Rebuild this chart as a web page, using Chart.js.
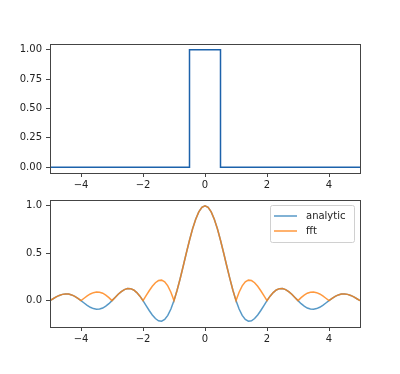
<!DOCTYPE html>
<html>
<head>
<meta charset="utf-8">
<script src="https://cdn.jsdelivr.net/npm/chart.js@4"></script>
<style>
  body { margin: 0; background: #fff; }
  #wrap { position: relative; width: 400px; height: 374px; }
  canvas { position: absolute; left: 0; }
</style>
</head>
<body>
<div id="wrap">
  <canvas id="top" width="400" height="190" style="top:0"></canvas>
  <canvas id="bottom" width="400" height="184" style="top:190px"></canvas>
</div>
<script>
// rectangle pulse (time domain)
const rectX = [-5, -0.5, -0.5, 0.5, 0.5, 5];
const rectY = [0, 0, 1, 1, 0, 0];

// sampled frequency axis
const freqX = [
  -5.0, -4.9, -4.8, -4.7, -4.6, -4.5, -4.4, -4.3, -4.2, -4.1,
  -4.0, -3.9, -3.8, -3.7, -3.6, -3.5, -3.4, -3.3, -3.2, -3.1,
  -3.0, -2.9, -2.8, -2.7, -2.6, -2.5, -2.4, -2.3, -2.2, -2.1,
  -2.0, -1.9, -1.8, -1.7, -1.6, -1.5, -1.4, -1.3, -1.2, -1.1,
  -1.0, -0.9, -0.8, -0.7, -0.6, -0.5, -0.4, -0.3, -0.2, -0.1,
  0.0, 0.1, 0.2, 0.3, 0.4, 0.5, 0.6, 0.7, 0.8, 0.9,
  1.0, 1.1, 1.2, 1.3, 1.4, 1.5, 1.6, 1.7, 1.8, 1.9,
  2.0, 2.1, 2.2, 2.3, 2.4, 2.5, 2.6, 2.7, 2.8, 2.9,
  3.0, 3.1, 3.2, 3.3, 3.4, 3.5, 3.6, 3.7, 3.8, 3.9,
  4.0, 4.1, 4.2, 4.3, 4.4, 4.5, 4.6, 4.7, 4.8, 4.9,
  5.0
];
const analytic = [
  0, 0.020, 0.039, 0.055, 0.066, 0.071, 0.069, 0.060, 0.045, 0.024,
  0, -0.025, -0.049, -0.070, -0.084, -0.091, -0.089, -0.078, -0.058, -0.032,
  0, 0.034, 0.067, 0.095, 0.116, 0.127, 0.126, 0.112, 0.085, 0.047,
  0, -0.052, -0.104, -0.151, -0.189, -0.212, -0.216, -0.198, -0.156, -0.089,
  0, 0.109, 0.234, 0.368, 0.505, 0.637, 0.757, 0.858, 0.935, 0.984,
  1, 0.984, 0.935, 0.858, 0.757, 0.637, 0.505, 0.368, 0.234, 0.109,
  0, -0.089, -0.156, -0.198, -0.216, -0.212, -0.189, -0.151, -0.104, -0.052,
  0, 0.047, 0.085, 0.112, 0.126, 0.127, 0.116, 0.095, 0.067, 0.034,
  0, -0.032, -0.058, -0.078, -0.089, -0.091, -0.084, -0.070, -0.049, -0.025,
  0, 0.024, 0.045, 0.060, 0.069, 0.071, 0.066, 0.055, 0.039, 0.020,
  0
];
const fft = [
  0, 0.020, 0.039, 0.055, 0.066, 0.071, 0.069, 0.060, 0.045, 0.024,
  0, 0.025, 0.049, 0.070, 0.084, 0.091, 0.089, 0.078, 0.058, 0.032,
  0, 0.034, 0.067, 0.095, 0.116, 0.127, 0.126, 0.112, 0.085, 0.047,
  0, 0.052, 0.104, 0.151, 0.189, 0.212, 0.216, 0.198, 0.156, 0.089,
  0, 0.109, 0.234, 0.368, 0.505, 0.637, 0.757, 0.858, 0.935, 0.984,
  1, 0.984, 0.935, 0.858, 0.757, 0.637, 0.505, 0.368, 0.234, 0.109,
  0, 0.089, 0.156, 0.198, 0.216, 0.212, 0.189, 0.151, 0.104, 0.052,
  0, 0.047, 0.085, 0.112, 0.126, 0.127, 0.116, 0.095, 0.067, 0.034,
  0, 0.032, 0.058, 0.078, 0.089, 0.091, 0.084, 0.070, 0.049, 0.025,
  0, 0.024, 0.045, 0.060, 0.069, 0.071, 0.066, 0.055, 0.039, 0.020,
  0
];

const xTicks = [-4, -2, 0, 2, 4];
const topYTicks = [0, 0.25, 0.5, 0.75, 1];
const bottomYTicks = [0, 0.5, 1];

const FONT = { family: "DejaVu Sans", size: 10 };
const INK = "#444";

const toPoints = (xs, ys) => xs.map((x, i) => ({ x: x, y: ys[i] }));
const minus = (s) => String(s).replace("-", "\u2212");

// draws the full box around the plot area
const frame = {
  id: "frame",
  afterDraw(chart) {
    const a = chart.chartArea;
    const ctx = chart.ctx;
    ctx.save();
    ctx.strokeStyle = INK;
    ctx.lineWidth = 1;
    ctx.strokeRect(Math.round(a.left) + 0.5, Math.round(a.top) + 0.5,
      Math.round(a.right - a.left), Math.round(a.bottom - a.top));
    ctx.restore();
  },
};

// matplotlib style legend box, upper right
const boxLegend = {
  id: "boxLegend",
  afterDraw(chart) {
    const a = chart.chartArea;
    const ctx = chart.ctx;
    const w = 84, h = 37;
    const x0 = a.right - 6 - w, y0 = a.top + 5;
    ctx.save();
    ctx.fillStyle = "rgba(255,255,255,0.8)";
    ctx.strokeStyle = "#d0d0d0";
    ctx.lineWidth = 1;
    ctx.beginPath();
    ctx.roundRect(x0 + 0.5, y0 + 0.5, w, h, 2);
    ctx.fill();
    ctx.stroke();
    ctx.font = "10px 'DejaVu Sans'";
    ctx.textBaseline = "middle";
    chart.data.datasets.forEach((ds, i) => {
      const y = y0 + 11 + i * 15;
      ctx.strokeStyle = ds.borderColor;
      ctx.lineWidth = 1.5;
      ctx.beginPath();
      ctx.moveTo(x0 + 4, y);
      ctx.lineTo(x0 + 27, y);
      ctx.stroke();
      ctx.fillStyle = "#222";
      ctx.fillText(ds.label, x0 + 36, y);
    });
    ctx.restore();
  },
};

function axes(yMin, yMax, yTicks, yDigits, xHeight) {
  return {
    x: {
      type: "linear",
      min: -5,
      max: 5,
      afterBuildTicks: (s) => { s.ticks = xTicks.map((v) => ({ value: v })); },
      afterFit: (s) => { s.height = xHeight; },
      ticks: { font: FONT, color: "#222", padding: 2, maxRotation: 0,
        callback: (v) => minus(v) },
      grid: { drawOnChartArea: false, color: INK, tickLength: 4 },
      border: { display: false },
    },
    y: {
      min: yMin,
      max: yMax,
      afterBuildTicks: (s) => { s.ticks = yTicks.map((v) => ({ value: v })); },
      afterFit: (s) => { s.width = 50; },
      ticks: { font: FONT, color: "#222", padding: 4,
        callback: (v) => minus(v.toFixed(yDigits)) },
      grid: { drawOnChartArea: false, color: INK, tickLength: 4 },
      border: { display: false },
    },
  };
}

const common = {
  responsive: false,
  animation: false,
  plugins: { legend: { display: false }, tooltip: { enabled: false } },
};

new Chart(document.getElementById("top"), {
  type: "line",
  data: {
    datasets: [{
      label: "rect",
      data: toPoints(rectX, rectY),
      borderColor: "#1c62ab",
      borderWidth: 1.5,
      pointRadius: 0,
      tension: 0,
    }],
  },
  options: Object.assign({}, common, {
    layout: { padding: { left: 0, right: 40, top: 44, bottom: 0 } },
    scales: axes(-0.05, 1.05, topYTicks, 2, 17),
  }),
  plugins: [frame],
});

new Chart(document.getElementById("bottom"), {
  type: "line",
  data: {
    datasets: [
      {
        label: "analytic",
        data: toPoints(freqX, analytic),
        borderColor: "rgba(31,119,180,0.75)",
        borderWidth: 1.5,
        pointRadius: 0,
        tension: 0,
        order: 2,
      },
      {
        label: "fft",
        data: toPoints(freqX, fft),
        borderColor: "rgba(255,127,14,0.8)",
        borderWidth: 1.5,
        pointRadius: 0,
        tension: 0,
        order: 1,
      },
    ],
  },
  options: Object.assign({}, common, {
    layout: { padding: { left: 0, right: 40, top: 8, bottom: 27 } },
    scales: axes(-0.278, 1.061, bottomYTicks, 1, 20),
  }),
  plugins: [frame, boxLegend],
});
</script>
</body>
</html>
